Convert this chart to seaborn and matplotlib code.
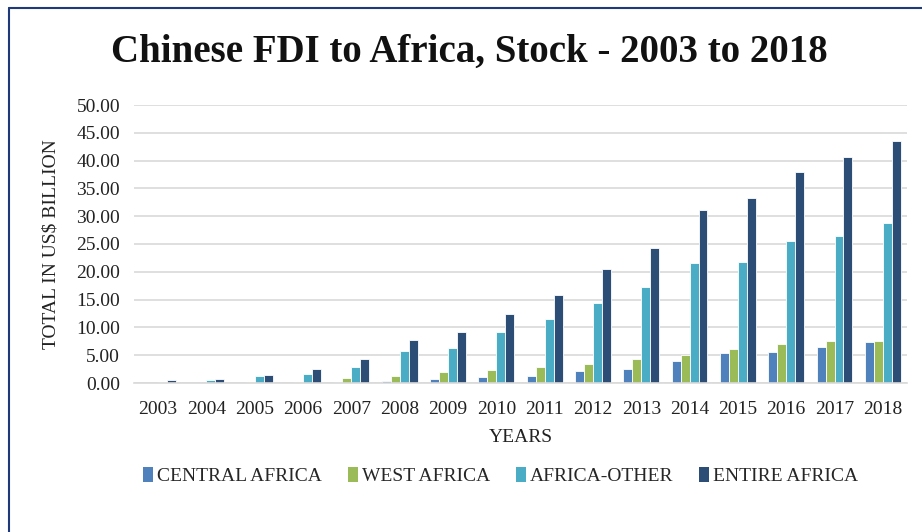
import matplotlib
matplotlib.use("Agg")
import matplotlib.pyplot as plt
import seaborn as sns
import pandas as pd
from matplotlib.lines import Line2D
from matplotlib.patches import Patch

years = [str(y) for y in range(2003, 2019)]
central_africa = [0.02, 0.02, 0.05, 0.08, 0.25, 0.3, 0.7, 1.0, 1.2, 2.1, 2.6, 4.0, 5.4, 5.6, 6.5, 7.3]
west_africa = [0.03, 0.05, 0.25, 0.25, 0.95, 1.2, 1.9, 2.35, 2.8, 3.5, 4.4, 5.1, 6.1, 7.0, 7.6, 7.6]
africa_other = [0.25, 0.5, 1.2, 1.7, 2.9, 5.8, 6.3, 9.1, 11.6, 14.4, 17.2, 21.5, 21.7, 25.5, 26.4, 28.7]
entire_africa = [0.5, 0.75, 1.5, 2.45, 4.3, 7.7, 9.1, 12.5, 15.8, 20.5, 24.3, 31.1, 33.3, 37.9, 40.7, 43.5]
series_names = ["CENTRAL AFRICA", "WEST AFRICA", "AFRICA-OTHER", "ENTIRE AFRICA"]
colors = ["#4F81BD", "#9BBB59", "#4BACC6", "#2C4D76"]

rows = []
for name, vals in zip(series_names, [central_africa, west_africa, africa_other, entire_africa]):
    for y, v in zip(years, vals):
        rows.append({"year": y, "series": name, "value": v})
df = pd.DataFrame(rows)

sns.set_theme(style="white")
plt.rcParams["font.family"] = ["Liberation Serif", "DejaVu Serif"]

fig = plt.figure(figsize=(9.22, 5.32), dpi=100)
ax = fig.add_axes([134 / 922, 1 - 383 / 532, (907 - 134) / 922, (383 - 105) / 532])

sns.barplot(data=df, x="year", y="value", hue="series", palette=colors,
            hue_order=series_names, order=years, width=0.74, ax=ax, saturation=1,
            edgecolor="white", linewidth=0.6, legend=False)

fs = 14
ax.set_ylim(0, 50)
ax.set_yticks(range(0, 51, 5))
ax.set_yticklabels([f"{v:.2f}" for v in range(0, 51, 5)], fontsize=fs, color="#222222")
ax.tick_params(axis="x", labelsize=fs, colors="#222222", length=0, pad=13)
ax.tick_params(axis="y", length=0, pad=10)
ax.yaxis.grid(True, color="#D9D9D9", linewidth=1.2)
ax.set_axisbelow(True)
for s in ["top", "right", "left"]:
    ax.spines[s].set_visible(False)
ax.spines["bottom"].set_color("#D9D9D9")
ax.spines["bottom"].set_linewidth(1.2)

ax.set_xlabel("YEARS", fontsize=fs, color="#222222", labelpad=8)
ax.set_ylabel("TOTAL IN US$ BILLION", fontsize=fs, color="#222222", labelpad=12)

fig.text(0.509, 1 - 52 / 532, "Chinese FDI to Africa, Stock - 2003 to 2018",
         ha="center", va="center", fontsize=28, fontweight="bold", color="#111111")

handles = [Patch(facecolor=c, edgecolor="none") for c in colors]
fig.legend(handles, series_names, loc="center", bbox_to_anchor=(0.543, 1 - 476 / 532),
           ncol=4, frameon=False, fontsize=fs, handlelength=0.5, handleheight=0.8,
           handletextpad=0.2, columnspacing=1.35)

# border lines (left and top)
fig.add_artist(Line2D([9 / 922, 9 / 922], [0, 1 - 8 / 532], color="#1F3A7A", linewidth=1.5,
                      transform=fig.transFigure))
fig.add_artist(Line2D([9 / 922, 1], [1 - 8 / 532, 1 - 8 / 532], color="#1F3A7A", linewidth=1.5,
                      transform=fig.transFigure))

fig.savefig("out.png", dpi=100, facecolor="white")
